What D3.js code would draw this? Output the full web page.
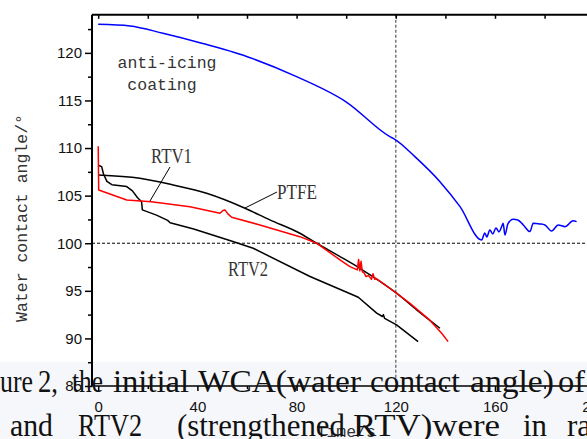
<!DOCTYPE html>
<html>
<head>
<meta charset="utf-8">
<script src="https://cdn.jsdelivr.net/npm/d3@7"></script>
<style>
  body { margin: 0; background: #fff; }
  svg { display: block; }
</style>
</head>
<body>
<svg id="chart" width="587" height="439"></svg>
<script>
// --- data (time in s, water contact angle in degrees) ---
const coatingTime = [0, 12.8, 26.1, 41, 60.1, 80, 100.2, 117.6, 119.6, 127.7, 137.8, 145.9, 154.6,
  155.9, 156.7, 157.9, 159.1, 160.4, 161.6, 162.8, 163.3, 164, 165.2, 167.3, 169.2, 171.4, 174.1, 175.4, 178.1, 180.1,
  182.8, 185.5, 188.2, 191.5, 192.9];
const coatingWCA = [123.0, 122.83, 122.06, 121.07, 119.6, 117.5, 114.81, 111.2, 110.92, 109.1, 106.47, 103.84, 100.35,
  101.08, 100.66, 101.4, 100.98, 101.6, 101.19, 101.82, 102.1, 100.87, 102.03, 102.52, 102.45, 101.92, 101.22, 102.1, 102.03, 101.92,
  101.29, 101.92, 101.74, 102.37, 102.27];

const ptfeTime = [0, 16.8, 30.2, 43.7, 59.2, 69.2, 81.3, 88.1, 97.5, 105.5, 120.3, 128.4, 137.8];
const ptfeWCA = [107.17, 106.83, 106.12, 105.25, 103.68, 102.45, 101.05, 100.0, 98.6, 97.37, 94.75, 93.0, 91.07];

const rtv1Time = [0, 0.2, 11.5, 21.5, 37, 49.1, 50.3, 51.1, 52.3, 53.8, 65.2, 81.3, 88.1, 97.5, 101.5,
  104.5, 105, 105.5, 106, 106.5, 107.2, 108, 109, 110.2, 110.8, 111.5, 112, 117.6, 125.6, 133.6, 138.5, 141.1];
const rtv1WCA = [110.2, 105.6, 104.55, 104.37, 103.84, 103.15, 103.44, 103.5, 103.08, 102.73, 101.92, 100.69, 100.0, 98.25, 97.54,
  97.2, 98.3, 97.1, 98.1, 97.0, 96.9, 96.5, 96.6, 96.2, 96.8, 96.2, 96.3, 95.27, 93.7, 91.94, 90.55, 89.66];

const rtv2Time = [0, 1.4, 2.1, 3.5, 5.5, 11.5, 13.8, 15.8, 17.5, 17.8, 23.5, 28, 29, 38.5, 54, 62.5, 85.4,
  104.2, 105, 112.3, 114.6, 115, 115.5, 120.3, 129];
const rtv2WCA = [108.2, 108.05, 107.3, 106.5, 106.15, 105.95, 105.5, 104.8, 104.35, 103.5, 102.95, 102.4, 102.15, 101.5, 100.2, 99.47, 96.5,
  94.4, 94.3, 92.65, 92.3, 92.5, 92.1, 91.42, 89.66];

const yMajorTicks = [85, 90, 95, 100, 105, 110, 115, 120];
const yMinorTicks = [87.5, 92.5, 97.5, 102.5, 107.5, 112.5, 117.5, 122.5];
const xMajorTicks = [0, 40, 80, 120, 160, 200];
const xMinorTicks = [20, 60, 100, 140, 180];

const captionLine1 = [["ure", 0, 33], ["2,", 38, 20], ["the", 72, 31], ["initial", 113, 76],
  ["WCA(water", 198, 163], ["contact", 370, 90], ["angle)", 470, 84], ["of", 558, 27]];
const captionLine2 = [["and", 10, 43], ["RTV2", 78, 64], ["(strengthened", 177, 168],
  ["RTV)were", 353, 147], ["in", 523, 24], ["ra", 567, 0]];

// --- drawing ---
const svg = d3.select("#chart");
const x = d3.scaleLinear().domain([-2.5, 202.5]).range([92, 600.4]);
const y = d3.scaleLinear().domain([85, 124]).range([386, 14.8]);

// light band of the page caption that sits over the bottom of the figure
svg.append("rect").attr("x", 0).attr("y", 362).attr("width", 587).attr("height", 77)
  .attr("fill", "#f6f7fb");

// reference lines
svg.append("line")
  .attr("x1", x.range()[0]).attr("x2", x.range()[1])
  .attr("y1", y(100)).attr("y2", y(100))
  .attr("stroke", "#000").attr("stroke-width", 1).attr("stroke-dasharray", "3,2");
svg.append("line")
  .attr("x1", x(120)).attr("x2", x(120))
  .attr("y1", y.range()[1]).attr("y2", y.range()[0])
  .attr("stroke", "#666").attr("stroke-width", 1.3).attr("stroke-dasharray", "3,2");

// series
const series = [
  [coatingTime, coatingWCA, "#0000ff", d3.curveMonotoneX],
  [ptfeTime, ptfeWCA, "#000", d3.curveMonotoneX],
  [rtv2Time, rtv2WCA, "#000", d3.curveLinear],
  [rtv1Time, rtv1WCA, "#ff0000", d3.curveLinear]
];
series.forEach(([t, v, c, curve]) => {
  const line = d3.line().x(d => x(d[0])).y(d => y(d[1])).curve(curve);
  svg.append("path")
    .datum(t.map((d, i) => [d, v[i]]))
    .attr("d", line)
    .attr("fill", "none")
    .attr("stroke", c)
    .attr("stroke-width", 1.5)
    .attr("stroke-linejoin", "round");
});

// axes
const axisFont = "'Liberation Sans', Arial, sans-serif";
const yAxis = svg.append("g").attr("transform", `translate(${x.range()[0]},0)`);
yAxis.call(d3.axisLeft(y).tickValues(yMajorTicks).tickSize(7).tickPadding(3));
yAxis.append("g").call(d3.axisLeft(y).tickValues(yMinorTicks).tickSize(4).tickFormat(""));
yAxis.selectAll(".domain").remove();
yAxis.selectAll("line").attr("stroke", "#000").attr("stroke-width", 1.5);
yAxis.selectAll("text").attr("font-family", axisFont).attr("font-size", 15).attr("fill", "#111");

const xAxis = svg.append("g").attr("transform", `translate(0,${y.range()[0]})`);
xAxis.call(d3.axisBottom(x).tickValues(xMajorTicks).tickSize(5).tickPadding(10));
xAxis.append("g").call(d3.axisBottom(x).tickValues(xMinorTicks).tickSize(3).tickFormat(""));
xAxis.selectAll(".domain").remove();
xAxis.selectAll("line").attr("stroke", "#000").attr("stroke-width", 1.5);
xAxis.selectAll("text").attr("font-family", axisFont).attr("font-size", 15).attr("fill", "#111");

const topAxis = svg.append("g").attr("transform", `translate(0,${y.range()[1]})`);
topAxis.call(d3.axisBottom(x).tickValues(xMajorTicks.concat(xMinorTicks)).tickSize(4).tickFormat(""));
topAxis.selectAll(".domain").remove();
topAxis.selectAll("line").attr("stroke", "#000").attr("stroke-width", 1.5);

// frame
const frame = svg.append("g").attr("stroke", "#000").attr("stroke-width", 2);
frame.append("line").attr("x1", x.range()[0]).attr("x2", x.range()[1])
  .attr("y1", y.range()[1]).attr("y2", y.range()[1]);
frame.append("line").attr("x1", x.range()[0]).attr("x2", x.range()[0])
  .attr("y1", y.range()[1]).attr("y2", y.range()[0]);
frame.append("line").attr("x1", x.range()[0]).attr("x2", x.range()[1])
  .attr("y1", y.range()[0]).attr("y2", y.range()[0]).attr("stroke-width", 1.5);

// axis titles
const monoFont = "'Liberation Mono', 'DejaVu Sans Mono', monospace";
svg.append("text")
  .attr("transform", `translate(27,218) rotate(-90)`)
  .attr("text-anchor", "middle")
  .attr("font-family", monoFont).attr("font-size", 16.5).attr("fill", "#333")
  .text("Water contact angle/°");
svg.append("text")
  .attr("x", x(100)).attr("y", 437)
  .attr("text-anchor", "middle")
  .attr("font-family", monoFont).attr("font-size", 16.5).attr("fill", "#333")
  .text("Time/s");

// annotations
const ann = svg.append("g").attr("fill", "#333");
ann.append("text").attr("x", 167).attr("y", 68).attr("text-anchor", "middle")
  .attr("font-family", monoFont).attr("font-size", 16.5).text("anti-icing");
ann.append("text").attr("x", 162).attr("y", 90).attr("text-anchor", "middle")
  .attr("font-family", monoFont).attr("font-size", 16.5).text("coating");

const serifFont = "'Liberation Serif', 'Times New Roman', serif";
[["RTV1", 151, 163, 41], ["PTFE", 277, 199, 40], ["RTV2", 228, 276, 40]].forEach(([s, lx, ly, w]) => {
  ann.append("text").attr("x", lx).attr("y", ly)
    .attr("font-family", serifFont).attr("font-size", 21)
    .attr("textLength", w).attr("lengthAdjust", "spacingAndGlyphs")
    .text(s);
});
const leaders = svg.append("g").attr("stroke", "#000").attr("stroke-width", 1);
leaders.append("line").attr("x1", 170).attr("y1", 167).attr("x2", 150).attr("y2", 201);
leaders.append("line").attr("x1", 277).attr("y1", 192).attr("x2", 245).attr("y2", 208);

// caption text over the figure
const cap = svg.append("g").attr("font-family", serifFont).attr("font-size", 31).attr("fill", "#111");
[[captionLine1, 392], [captionLine2, 436]].forEach(([words, base]) => {
  words.forEach(([w, wx, ww]) => {
    const t = cap.append("text").attr("x", wx).attr("y", base).text(w);
    if (ww > 0) t.attr("textLength", ww).attr("lengthAdjust", "spacingAndGlyphs");
  });
});
</script>
</body>
</html>
